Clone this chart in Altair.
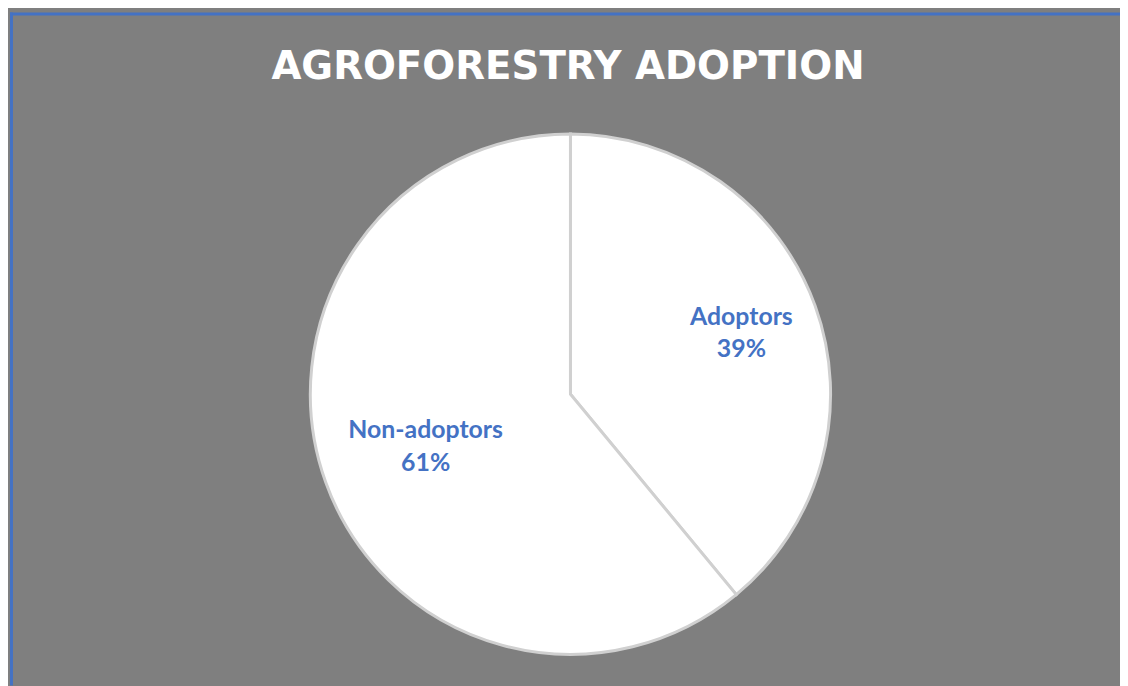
import altair as alt
import pandas as pd

categories = ["Adoptors", "Non-adoptors"]
shares = [39, 61]
title_text = ["AGROFORESTRY ADOPTION"]

W, H = 1120, 678
CX, CY, R = 564.5, 384.5, 262

df = pd.DataFrame({"category": categories, "share": shares})
tdf = pd.DataFrame({"t": title_text})

base = alt.Chart(df)

pie = base.mark_arc(stroke="#d0d0d0", strokeWidth=3, radius=R).encode(
    theta=alt.Theta("share:Q", stack=True),
    order=alt.Order("category:N"),
    color=alt.value("white"),
    x=alt.value(CX),
    y=alt.value(CY),
)

labels = base.transform_window(
    cum="sum(share)", sort=[alt.SortField("category")]
).transform_joinaggregate(
    total="sum(share)"
).transform_calculate(
    ang="2 * PI * (datum.cum - datum.share / 2) / datum.total",
    label="datum.category + '\\n' + datum.share + '%'",
    r="datum.category == 'Adoptors' ? 183 : 155",
).mark_text(
    lineBreak="\n", lineHeight=33, font="Lato", fontWeight="bold", fontSize=25,
    color="#4472C4", align="center", baseline="middle", dy=-16,
).encode(
    theta=alt.Theta("ang:Q", scale=None),
    radius=alt.Radius("r:Q", scale=None),
    text="label:N",
    x=alt.value(CX),
    y=alt.value(CY),
)

title = alt.Chart(tdf).mark_text(
    font="DejaVu Sans", fontWeight="bold", fontSize=39, color="white",
    align="center", baseline="alphabetic",
).encode(text="t:N", x=alt.value(562), y=alt.value(67))

top_rule = alt.Chart(tdf).mark_rule(color="#4472C4", strokeWidth=3).encode(
    x=alt.value(0), x2=alt.value(W), y=alt.value(1.5)
)
left_rule = alt.Chart(tdf).mark_rule(color="#4472C4", strokeWidth=3).encode(
    x=alt.value(1.5), y=alt.value(0), y2=alt.value(H)
)

chart = alt.layer(pie, labels, title, top_rule, left_rule).properties(
    width=W, height=H, background="#7f7f7f", padding=0,
    autosize=alt.AutoSizeParams(type="fit", contains="padding"),
).configure_view(stroke=None)

chart.save("out.html", embed_options={"renderer": "svg", "actions": False})
